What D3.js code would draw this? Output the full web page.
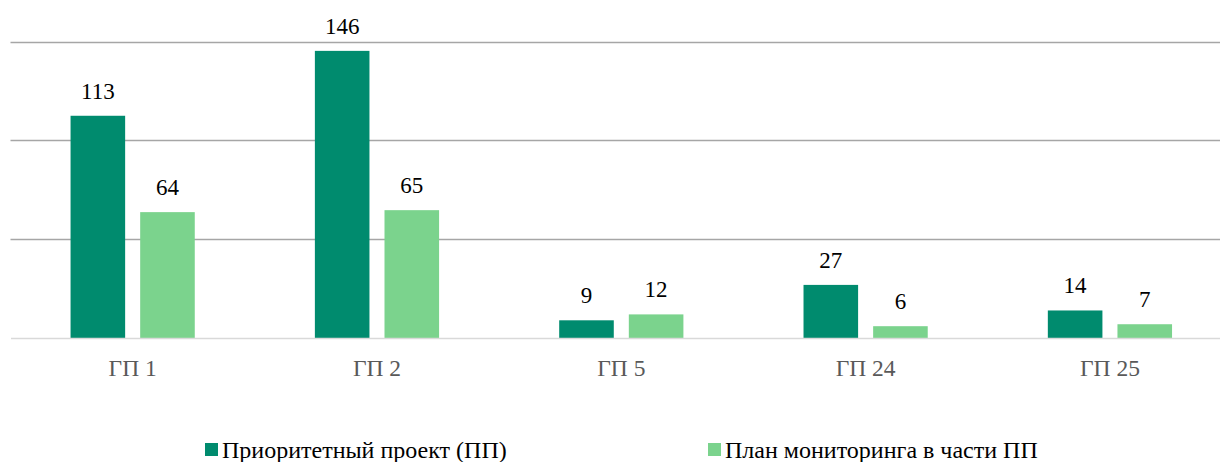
<!DOCTYPE html>
<html>
<head>
<meta charset="utf-8">
<script src="https://cdn.jsdelivr.net/npm/d3@7"></script>
<style>
    body { margin: 0; background: #fff; overflow: hidden; }
    svg { display: block; }
    svg text { font-family: "Liberation Serif", "Times New Roman", serif; }
</style>
</head>
<body>
<div id="chart"></div>
<script>
// chart data
const categories = ["ГП 1", "ГП 2", "ГП 5", "ГП 24", "ГП 25"];
const seriesNames = ["Приоритетный проект (ПП)", "План мониторинга в части ПП"];
const priorityProject = [113, 146, 9, 27, 14];
const monitoringPlan = [64, 65, 12, 6, 7];
const yTicks = [0, 50, 100, 150];

const colors = ["#008b6e", "#7bd38d"];

const width = 1220;
const height = 462;
const margin = { top: 43, left: 10.5, bottom: 124 };
const plotW = 1221.6; // plot runs slightly past the right edge
const plotH = height - margin.top - margin.bottom;

const svg = d3.select("#chart")
    .append("svg")
    .attr("width", width)
    .attr("height", height);

const g = svg.append("g")
    .attr("transform", `translate(${margin.left},${margin.top})`);

const x0 = d3.scaleBand()
    .domain(categories)
    .range([0, plotW])
    .paddingInner(0)
    .paddingOuter(0);

// two bars per group, ~55px wide with a 15px gap
const x1 = d3.scaleBand()
    .domain([0, 1])
    .range([x0.bandwidth() * 0.2458, x0.bandwidth() * 0.7542])
    .paddingInner(0.216)
    .paddingOuter(0);

const y = d3.scaleLinear()
    .domain([0, 150])
    .range([plotH, 0]);

// gridlines
g.append("g")
    .selectAll("line")
    .data(yTicks.filter(d => d > 0))
    .enter().append("line")
    .attr("x1", 0)
    .attr("x2", plotW)
    .attr("y1", d => Math.round(y(d)) - 0.5)
    .attr("y2", d => Math.round(y(d)) - 0.5)
    .attr("stroke", "#a6a6a6")
    .attr("stroke-width", 1.5);

const rows = categories.map((c, i) => ({ cat: c, values: [priorityProject[i], monitoringPlan[i]] }));

const groups = g.selectAll(".group")
    .data(rows)
    .enter().append("g")
    .attr("class", "group")
    .attr("transform", d => `translate(${x0(d.cat)},0)`);

groups.selectAll("rect")
    .data(d => d.values.map((v, k) => ({ k, v })))
    .enter().append("rect")
    .attr("x", d => x1(d.k))
    .attr("width", x1.bandwidth())
    .attr("y", d => y(d.v))
    .attr("height", d => plotH - y(d.v))
    .attr("fill", d => colors[d.k]);

groups.selectAll("text")
    .data(d => d.values.map((v, k) => ({ k, v })))
    .enter().append("text")
    .attr("x", d => x1(d.k) + x1.bandwidth() / 2)
    .attr("y", d => y(d.v) - 17)
    .attr("text-anchor", "middle")
    .style("font-size", "23px")
    .style("fill", "#000")
    .text(d => d.v);

// x axis
const xAxis = g.append("g")
    .attr("transform", `translate(0,${plotH})`)
    .call(d3.axisBottom(x0).tickSize(0).tickPadding(0));

xAxis.select(".domain")
    .attr("stroke", "#d9d9d9")
    .attr("stroke-width", 1.5);

xAxis.selectAll("text")
    .attr("dy", 0)
    .attr("y", 38)
    .style("font-size", "23.5px")
    .style("fill", "#595959");

// legend
const legendX = [205, 708];
const legend = svg.append("g")
    .selectAll("g")
    .data(seriesNames)
    .enter().append("g")
    .attr("transform", (d, i) => `translate(${legendX[i]},443)`);

legend.append("rect")
    .attr("width", 13)
    .attr("height", 13)
    .attr("fill", (d, i) => colors[i]);

legend.append("text")
    .attr("x", 17)
    .attr("y", 15)
    .style("font-size", "24px")
    .style("fill", "#000")
    .text(d => d);
</script>
</body>
</html>
